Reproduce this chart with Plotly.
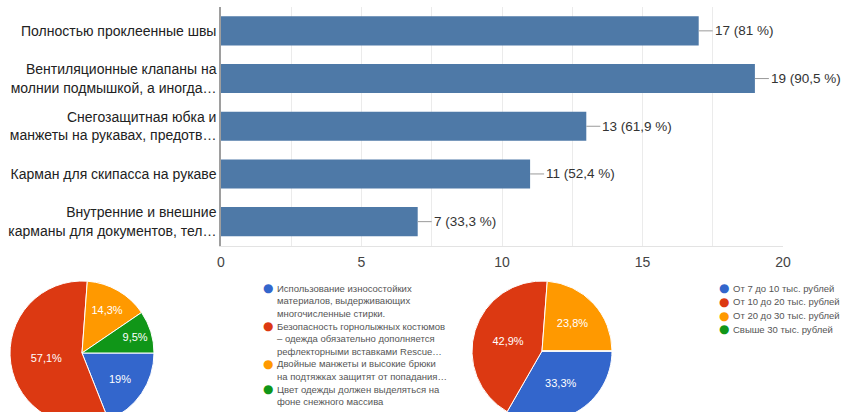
import plotly.graph_objects as go

# ---------------- data ----------------
categories = [
    "Полностью проклеенные швы",
    "Вентиляционные клапаны на<br>молнии подмышкой, а иногда…",
    "Снегозащитная юбка и<br>манжеты на рукавах, предотв…",
    "Карман для скипасса на рукаве",
    "Внутренние и внешние<br>карманы для документов, тел…",
]
counts = [17, 19, 13, 11, 7]
percents = [81, 90.5, 61.9, 52.4, 33.3]
x_ticks = [0, 5, 10, 15, 20]

pie1_labels = [
    "Использование износостойких<br>материалов, выдерживающих<br>многочисленные стирки.",
    "Безопасность горнолыжных костюмов<br>– одежда обязательно дополняется<br>рефлекторными вставками Rescue…",
    "Двойные манжеты и высокие брюки<br>на подтяжках защитят от попадания…",
    "Цвет одежды должен выделяться на<br>фоне снежного массива",
]
pie1_values = [19, 57.1, 14.3, 9.5]

pie2_labels = [
    "От 7 до 10 тыс. рублей",
    "От 10 до 20 тыс. рублей",
    "От 20 до 30 тыс. рублей",
    "Свыше 30 тыс. рублей",
]
pie2_values = [33.3, 42.9, 23.8, 0]

pie_colors = ["#3366cc", "#dc3912", "#ff9900", "#109618"]
bar_color = "#4e79a7"

# ---------------- layout helpers ----------------
W, H = 842, 430  # figure taller than the window so the pies are cut at the bottom


def fmt(v):
    return f"{v:g}".replace(".", ",")


def px_x(p):
    return p / W


def px_y(p):  # p measured from top in pixels
    return (H - p) / H


FONT = "Liberation Sans, Arial, sans-serif"

fig = go.Figure()

fig.add_trace(go.Bar(
    x=counts, y=categories, orientation="h",
    marker=dict(color=bar_color, line=dict(width=0)),
    hoverinfo="x+y", showlegend=False,
))


def pie_domain(cx, cy, r):
    return dict(x=[px_x(cx - r), px_x(cx + r)], y=[px_y(cy + r), px_y(cy - r)])


fig.add_trace(go.Pie(
    labels=[l.replace("<br>", " ") for l in pie1_labels], values=pie1_values,
    text=[fmt(v) + "%" if v else "" for v in pie1_values],
    textinfo="text", textposition="inside", insidetextorientation="horizontal",
    textfont=dict(color="white", size=11, family=FONT),
    sort=False, direction="clockwise", rotation=90,
    marker=dict(colors=pie_colors, line=dict(color="white", width=1)),
    domain=pie_domain(82, 353, 72), showlegend=False,
))

fig.add_trace(go.Pie(
    labels=pie2_labels, values=pie2_values,
    text=[fmt(v) + "%" if v else "" for v in pie2_values],
    textinfo="text", textposition="inside", insidetextorientation="horizontal",
    textfont=dict(color="white", size=11, family=FONT),
    sort=False, direction="clockwise", rotation=90,
    marker=dict(colors=pie_colors, line=dict(color="white", width=1)),
    domain=pie_domain(542, 351, 70), showlegend=False,
))

annotations = []
# value labels with leader lines
for c, n, p in zip(categories, counts, percents):
    annotations.append(dict(
        x=n, y=c, xref="x", yref="y", text=f"{n} ({fmt(p)} %)",
        showarrow=True, arrowhead=0, arrowwidth=1, arrowcolor="#9a9a9a",
        ax=14, ay=0, xanchor="left", yanchor="middle",
        font=dict(size=13.5, color="#333333", family=FONT),
    ))


def add_legend(labels, bullet_x, text_x, start_y, line_h, item_gap):
    y = start_y
    for lab, col in zip(labels, pie_colors):
        lines = lab.split("<br>")
        annotations.append(dict(
            x=px_x(bullet_x), y=px_y(y), xref="paper", yref="paper",
            text="●", showarrow=False, xanchor="center", yanchor="middle",
            font=dict(size=12, color=col, family="DejaVu Sans"),
        ))
        for i, ln in enumerate(lines):
            annotations.append(dict(
                x=px_x(text_x), y=px_y(y + i * line_h), xref="paper", yref="paper",
                text=ln, showarrow=False, xanchor="left", yanchor="middle",
                font=dict(size=9.5, color="#555555", family=FONT),
            ))
        y += len(lines) * line_h + item_gap


add_legend(pie1_labels, 268, 275, 288.3, 12.5, 0.3)
add_legend(pie2_labels, 724, 731, 288.3, 13.6, 0)

fig.update_layout(
    width=W, height=H, autosize=False,
    margin=dict(l=0, r=0, t=0, b=0, autoexpand=False),
    paper_bgcolor="white", plot_bgcolor="white",
    font=dict(family=FONT, color="#333333"),
    bargap=0.39,
    xaxis=dict(
        domain=[px_x(221), px_x(783)], range=[0, 20],
        tickvals=x_ticks, ticktext=[str(t) for t in x_ticks],
        tickfont=dict(size=14, color="#444444"),
        ticklabelstandoff=4, automargin=False,
        showgrid=True, gridcolor="#ebebeb", gridwidth=1,
        minor=dict(dtick=2.5, tick0=0, showgrid=True, gridcolor="#ebebeb", gridwidth=1),
        zeroline=False, showline=True, linecolor="#e3e3e3", linewidth=1,
        ticks="", anchor="y", fixedrange=True,
    ),
    yaxis=dict(
        domain=[px_y(245.5), px_y(7)],
        autorange="reversed", type="category", automargin=False,
        tickfont=dict(size=14, color="#222222"),
        ticklabelstandoff=0,
        showgrid=False, zeroline=False,
        showline=True, linecolor="#9e9e9e", linewidth=1.5,
        ticks="", anchor="x", fixedrange=True,
    ),
    annotations=annotations,
)

fig.write_html(
    "out.html",
    post_script="document.documentElement.style.overflow='hidden';document.body.style.overflow='hidden';document.body.style.margin='0';",
)
